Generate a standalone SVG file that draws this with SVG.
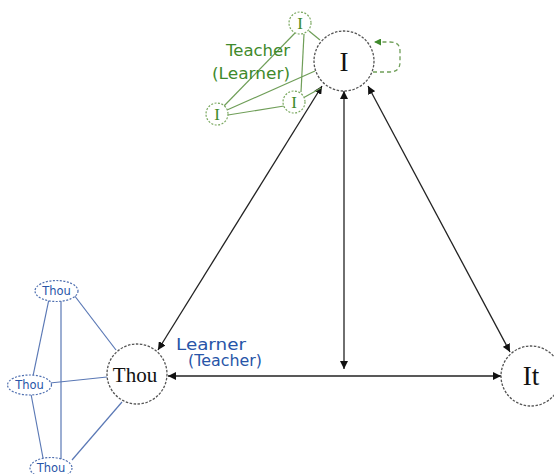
<svg xmlns="http://www.w3.org/2000/svg" width="554" height="474" viewBox="0 0 554 474">
<style>
.bg{fill:#ffffff}
.main{fill:#ffffff;stroke:#555;stroke-width:1.3;stroke-dasharray:2.5 1.5}
.gnode{fill:#ffffff;stroke:#7aa860;stroke-width:1.2;stroke-dasharray:2 1.5}
.bnode{fill:#ffffff;stroke:#5070b0;stroke-width:1.2;stroke-dasharray:2 1.5}
.serif{font-family:"Liberation Serif","Times New Roman",serif;fill:#111;text-anchor:middle}
.gl{stroke:#6f9e58;stroke-width:1.2;fill:none}
.bl{stroke:#5a78b5;stroke-width:1.2;fill:none}
.arr{stroke:#222;stroke-width:1.3;fill:none;marker-start:url(#ah);marker-end:url(#ah)}
.gtext{font-family:"DejaVu Sans",Verdana,sans-serif;font-size:16px;fill:#3f8a2c}
.btext{font-family:"DejaVu Sans",Verdana,sans-serif;font-size:15px;fill:#2855a8}
.thou{font-family:"DejaVu Sans",Verdana,sans-serif;font-size:11.5px;fill:#2855a8;text-anchor:middle}
</style>
<defs>
<marker id="ah" viewBox="0 0 10 10" refX="10" refY="5" markerWidth="8" markerHeight="8" markerUnits="userSpaceOnUse" orient="auto-start-reverse">
<path d="M0,0 L10,5 L0,10 z" fill="#111"/>
</marker>
<marker id="gah" viewBox="0 0 10 10" refX="10" refY="5" markerWidth="7" markerHeight="7" markerUnits="userSpaceOnUse" orient="auto">
<path d="M0,0 L10,5 L0,10 z" fill="#3f8a2c"/>
</marker>
</defs>
<rect class="bg" x="0" y="0" width="554" height="474"/>

<g id="connectors">
<line class="arr" x1="322" y1="86" x2="158" y2="350"/>
<line class="arr" x1="368" y1="86" x2="510" y2="352"/>
<line class="arr" x1="344" y1="91" x2="344" y2="369"/>
<line class="arr" x1="168" y1="376" x2="501" y2="376"/>
<path d="M373,72 L390,72 Q400,72 400,62 L400,51 Q400,42 390,42 L374,42" stroke="#6f9e58" stroke-width="1.3" stroke-dasharray="4 3" fill="none" marker-end="url(#gah)"/>
<g id="green-links">
<line class="gl" x1="295" y1="33" x2="223" y2="107"/>
<line class="gl" x1="304" y1="34" x2="301" y2="92"/>
<line class="gl" x1="309" y1="31" x2="320" y2="40"/>
<line class="gl" x1="227" y1="110" x2="315" y2="71"/>
<line class="gl" x1="228" y1="115" x2="284" y2="106"/>
<line class="gl" x1="303" y1="98" x2="321" y2="88"/>
</g>
<g id="blue-links">
<line class="bl" x1="74" y1="295" x2="116" y2="350"/>
<line class="bl" x1="49" y1="299" x2="33" y2="376"/>
<line class="bl" x1="61" y1="299" x2="61" y2="459"/>
<line class="bl" x1="50" y1="383" x2="107" y2="377"/>
<line class="bl" x1="31" y1="394" x2="43" y2="458"/>
<line class="bl" x1="122" y1="402" x2="72" y2="460"/>
</g>
</g>

<g id="node-I">
<circle class="main" cx="344" cy="61" r="30"/>
<text class="serif" x="344" y="71" font-size="27">I</text>
</g>
<g id="node-Thou">
<circle class="main" cx="137" cy="374" r="30"/>
<text class="serif" x="135" y="382" font-size="21">Thou</text>
</g>
<g id="node-It">
<circle class="main" cx="531" cy="376" r="30"/>
<text class="serif" x="531" y="385" font-size="27">It</text>
</g>

<g id="node-I-top">
<circle class="gnode" cx="300" cy="23" r="11"/>
<text class="serif" x="300" y="29" font-size="17" style="fill:#3f8a2c">I</text>
</g>
<g id="node-I-left">
<circle class="gnode" cx="217" cy="114" r="11"/>
<text class="serif" x="217" y="120" font-size="17" style="fill:#3f8a2c">I</text>
</g>
<g id="node-I-mid">
<circle class="gnode" cx="294" cy="102" r="11"/>
<text class="serif" x="294" y="108" font-size="17" style="fill:#3f8a2c">I</text>
</g>

<g id="node-Thou-top">
<ellipse class="bnode" cx="56.5" cy="291" rx="21.5" ry="10.5"/>
<text class="thou" x="56.5" y="295">Thou</text>
</g>
<g id="node-Thou-mid">
<ellipse class="bnode" cx="29.5" cy="385" rx="22" ry="10"/>
<text class="thou" x="29.5" y="389">Thou</text>
</g>
<g id="node-Thou-bottom">
<ellipse class="bnode" cx="51" cy="468" rx="21" ry="10.5"/>
<text class="thou" x="51" y="472">Thou</text>
</g>

<g id="label-teacher">
<text class="gtext" x="226" y="56" textLength="64" lengthAdjust="spacingAndGlyphs">Teacher</text>
<text class="gtext" x="212" y="79" textLength="78" lengthAdjust="spacingAndGlyphs">(Learner)</text>
</g>
<g id="label-learner">
<text class="btext" x="176" y="350" textLength="70" lengthAdjust="spacingAndGlyphs">Learner</text>
<text class="btext" x="188" y="366" textLength="74" lengthAdjust="spacingAndGlyphs">(Teacher)</text>
</g>
</svg>
